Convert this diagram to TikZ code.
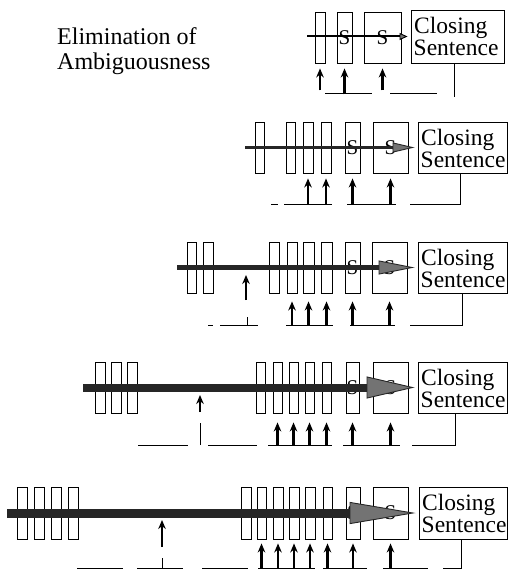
\documentclass[tikz,border=0pt]{standalone}
\usepackage{fontspec}
\setmainfont{Liberation Serif}
\usetikzlibrary{arrows.meta}
\tikzset{
  barbox/.style={draw, line width=0.9pt, inner sep=0pt, font=\fontsize{21}{21}\selectfont},
  closebox/.style={draw, line width=0.9pt, inner sep=0pt},
  cltext/.style={anchor=base west, inner sep=0pt, font=\fontsize{23.5}{23.5}\selectfont},
  titletext/.style={anchor=base west, inner sep=0pt, font=\fontsize{24}{24}\selectfont},
  uparr/.style={line width=2.5pt, -{Stealth[length=9pt,width=7.5pt]}},
  baseln/.style={line width=1pt},
  shaft/.style={draw=black!85},
  bighead/.style n args={2}{-{Triangle[length=#1pt,width=#2pt,fill=black!55,line width'=0.9pt]}}
}
\newcommand\vb[6]{\node[barbox, minimum width={(#3-#2)*1pt}, minimum height={(#5-#4)*1pt}] (#1) at ({(#2+#3)/2},{(#4+#5)/2}) {#6};}
\newcommand\clbox[5]{\node[closebox, minimum width={(#4-#2)*1pt}, minimum height={(#5-#3)*1pt}] (#1) at ({(#2+#4)/2},{(#3+#5)/2}) {};
  \node[cltext] (#1a) at ({#2+3},{#3+23.5}) {Closing};
  \node[cltext] (#1b) at ({#2+2.5},{#3+45.5}) {Sentence};}
\newcommand\ua[3]{\draw[uparr] ([yshift=-#2pt]#1.south) -- ([yshift=-#3pt]#1.south);}
\begin{document}
\begin{tikzpicture}[x=1pt,y=-1pt]
\useasboundingbox (0,0) rectangle (508,572);
% title
\node[titletext] (t1) at (57,45) {Elimination of};
\node[titletext] (t2) at (57,70) {Ambiguousness};

% ---------- panel 1
\vb{p1a}{315}{325}{12}{63}{}
\vb{p1b}{337}{352}{12}{63}{S}
\vb{p1c}{364}{401}{12}{63}{S}
\clbox{p1z}{411}{10}{504}{63}
\coordinate (p1s) at (307,36.5);
\draw[draw=black, line width=2pt, bighead={8}{7}] (p1s) -- ([xshift=-3pt]p1z.west);
\ua{p1a}{27}{5}\ua{p1b}{31}{5}\ua{p1c}{27}{5}
\draw[baseln] (325,94) -- (372,94);
\draw[baseln] (390,94) -- (437,94);
\draw[baseln] ([xshift=-3.5pt]p1z.south) -- ++(0,34);

% ---------- panel 2
\vb{p2a}{255}{264}{122}{173}{}
\vb{p2b}{286}{295}{122}{173}{}
\vb{p2c}{303}{313}{122}{173}{}
\vb{p2d}{321}{331}{122}{173}{}
\vb{p2e}{345}{360}{122}{173}{S}
\vb{p2f}{373}{408}{122}{173}{S}
\clbox{p2z}{418}{122}{507}{173}
\coordinate (p2s) at (245,147.5);
\draw[shaft, line width=3.8pt, bighead={22}{10}] (p2s) -- ([xshift=-3pt]p2z.west);
\ua{p2c}{31}{5}\ua{p2d}{31}{5}\ua{p2e}{31}{5}\ua{p2f}{31}{5}
\draw[baseln] (271,204) -- (278,204);
\draw[baseln] (284,204) -- (332,204);
\draw[baseln] (347,204) -- (396,204);
\draw[baseln] (410,204) -| ([xshift=-2.5pt]p2z.south);

% ---------- panel 3
\vb{p3a}{187}{196}{242}{293}{}
\vb{p3b}{203}{213}{242}{293}{}
\vb{p3c}{269}{279}{242}{293}{}
\vb{p3d}{287}{297}{242}{293}{}
\vb{p3e}{303}{314}{242}{293}{}
\vb{p3f}{321}{332}{242}{293}{}
\vb{p3g}{345}{360}{242}{293}{S}
\vb{p3h}{372}{407}{242}{293}{S}
\clbox{p3z}{418}{242}{507}{293}
\coordinate (p3s) at (177,267.5);
\draw[shaft, line width=5.5pt, bighead={36}{14}] (p3s) -- ([xshift=-3pt]p3z.west);
\coordinate (p3u) at (246,300);
\draw[uparr] (p3u) -- ++(0,-25);
\draw[baseln] (247,317) -- (247,325);
\ua{p3d}{32}{8}\ua{p3e}{32}{8}\ua{p3f}{32}{8}\ua{p3g}{32}{8}\ua{p3h}{32}{8}
\draw[baseln] (208,325) -- (213,325);
\draw[baseln] (220,325) -- (258,325);
\draw[baseln] (286,325) -- (333,325);
\draw[baseln] (350,325) -- (395,325);
\draw[baseln] (410,325) -| ([xshift=-0.5pt]p3z.south);

% ---------- panel 4
\vb{p4a}{95}{105}{362}{413}{}
\vb{p4b}{111}{121}{362}{413}{}
\vb{p4c}{127}{137}{362}{413}{}
\vb{p4d}{256}{265}{362}{413}{}
\vb{p4e}{273}{282}{362}{413}{}
\vb{p4f}{289}{298}{362}{413}{}
\vb{p4g}{305}{314}{362}{413}{}
\vb{p4h}{322}{331}{362}{413}{}
\vb{p4i}{346}{359}{362}{413}{S}
\vb{p4j}{373}{408}{362}{413}{S}
\clbox{p4z}{418}{362}{507}{413}
\coordinate (p4s) at (83,387.5);
\draw[shaft, line width=8pt, bighead={48}{22}] (p4s) -- ([xshift=-3pt]p4z.west);
\coordinate (p4u) at (200,412);
\draw[uparr] (p4u) -- ++(0,-17);
\draw[baseln] (200,423) -- (200,445);
\ua{p4e}{32}{9}\ua{p4f}{32}{9}\ua{p4g}{32}{9}\ua{p4h}{32}{9}\ua{p4i}{32}{9}\ua{p4j}{32}{9}
\draw[baseln] (138,445) -- (188,445);
\draw[baseln] (208,445) -- (257,445);
\draw[baseln] (268,445) -- (332,445);
\draw[baseln] (343,445) -- (400,445);
\draw[baseln] (412,445) -| ([xshift=-7.5pt]p4z.south);

% ---------- panel 5
\vb{p5a}{17}{27}{487}{539}{}
\vb{p5b}{34}{44}{487}{539}{}
\vb{p5c}{51}{61}{487}{539}{}
\vb{p5d}{68}{78}{487}{539}{}
\vb{p5e}{241}{251}{487}{539}{}
\vb{p5f}{257}{266}{487}{539}{}
\vb{p5g}{273}{283}{487}{539}{}
\vb{p5h}{289}{299}{487}{539}{}
\vb{p5i}{305}{315}{487}{539}{}
\vb{p5j}{323}{332}{487}{539}{}
\vb{p5k}{346}{360}{487}{539}{S}
\vb{p5l}{373}{408}{487}{539}{S}
\clbox{p5z}{419}{487}{507}{539}
\coordinate (p5s) at (7,513);
\draw[shaft, line width=9pt, bighead={66}{22}] (p5s) -- ([xshift=-3pt]p5z.west);
\coordinate (p5u) at (162,547);
\draw[uparr] (p5u) -- ++(0,-27);
\draw[baseln] (162,558) -- (162,568);
\ua{p5f}{29}{4}\ua{p5g}{29}{4}\ua{p5h}{29}{4}\ua{p5i}{29}{4}\ua{p5j}{29}{4}\ua{p5k}{29}{4}\ua{p5l}{29}{4}
\draw[baseln] (77,568) -- (123,568);
\draw[baseln] (137,568) -- (183,568);
\draw[baseln] (202,568) -- (248,568);
\draw[baseln] (258,568) -- (315,568);
\draw[baseln] (323,568) -- (367,568);
\draw[baseln] (383,568) -- (428,568);
\draw[baseln] (443,568) -| ([xshift=-2pt]p5z.south);
\end{tikzpicture}
\end{document}
